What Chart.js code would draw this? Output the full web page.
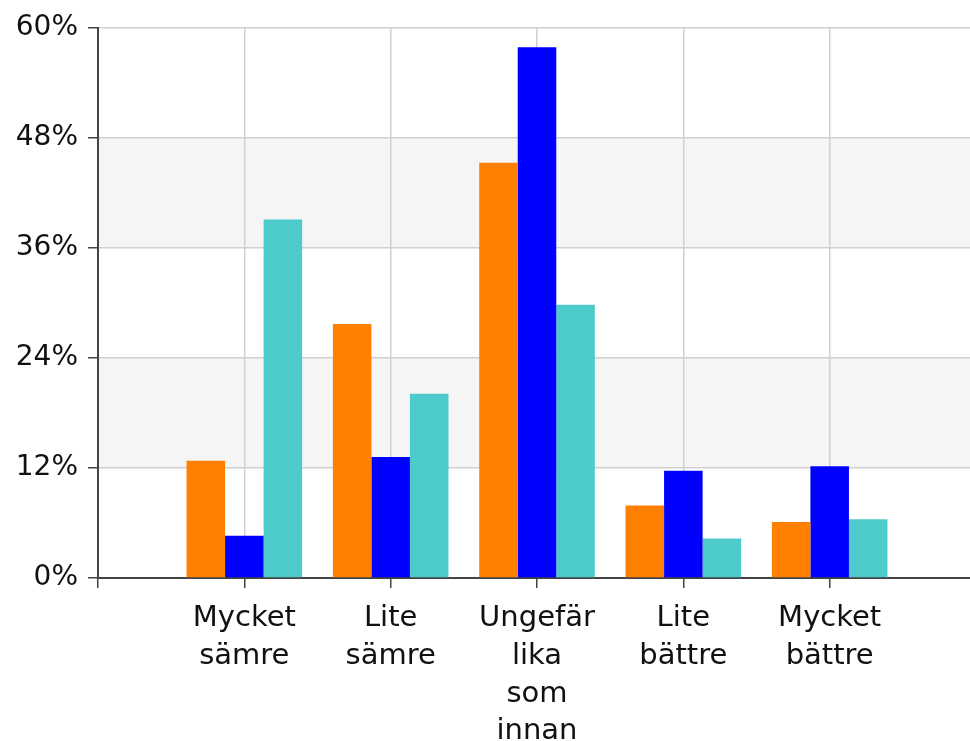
<!DOCTYPE html>
<html>
<head>
<meta charset="utf-8">
<script src="https://cdn.jsdelivr.net/npm/chart.js@4/dist/chart.umd.min.js"></script>
<style>
  html, body { margin: 0; padding: 0; background: #fff; overflow: hidden; }
  #chart { display: block; width: 987px; height: 741px; }
</style>
</head>
<body>
<canvas id="chart" width="987" height="741"></canvas>
<script>
const categories = [
  ["Mycket", "sämre"],
  ["Lite", "sämre"],
  ["Ungefär", "lika", "som", "innan"],
  ["Lite", "bättre"],
  ["Mycket", "bättre"]
];
const orangeValues = [12.8, 27.7, 45.3, 7.9, 6.1];
const blueValues = [4.6, 13.2, 57.9, 11.7, 12.2];
const tealValues = [39.1, 20.1, 29.8, 4.3, 6.4];
const yTicks = [0, 12, 24, 36, 48, 60];
const bands = [[12, 24], [36, 48]];

const C = {
  orange: "#FF8000",
  blue: "#0000FF",
  teal: "#4DCBCB",
  band: "#F5F5F5",
  grid: "#D0D0D0",
  axis: "#444444",
  text: "#111111"
};

// empty slot on each side, like the original axis
const labels = ["", ...categories, ""];
const pad = arr => [null, ...arr, null];

const bandPlugin = {
  id: "bands",
  beforeDraw(chart) {
    const { ctx, chartArea, scales } = chart;
    ctx.save();
    ctx.fillStyle = C.band;
    bands.forEach(([lo, hi]) => {
      const y1 = scales.y.getPixelForValue(hi);
      const y2 = scales.y.getPixelForValue(lo);
      ctx.fillRect(chartArea.left, y1, chartArea.right - chartArea.left, y2 - y1);
    });
    ctx.restore();
  }
};

const family = "'DejaVu Sans', sans-serif";

new Chart(document.getElementById("chart"), {
  type: "bar",
  data: {
    labels,
    datasets: [
      { label: "Grupp 1", data: pad(orangeValues), backgroundColor: C.orange },
      { label: "Grupp 2", data: pad(blueValues), backgroundColor: C.blue },
      { label: "Grupp 3", data: pad(tealValues), backgroundColor: C.teal }
    ]
  },
  options: {
    responsive: false,
    animation: false,
    categoryPercentage: 0.79,
    barPercentage: 1.0,
    layout: { padding: { top: 28, right: 0, bottom: 0, left: 0 } },
    plugins: { legend: { display: false }, tooltip: { enabled: false } },
    scales: {
      x: {
        offset: false,
        grid: { color: C.grid, lineWidth: 1.5, tickColor: C.axis, tickWidth: 1.5, tickLength: 10, offset: false },
        border: { color: C.axis, width: 2 },
        ticks: { color: C.text, font: { family, size: 29, lineHeight: 1.31 }, padding: 11, maxRotation: 0, autoSkip: false },
        afterFit(scale) { scale.height = 163; }
      },
      y: {
        min: 0,
        max: 60,
        afterBuildTicks(scale) { scale.ticks = yTicks.map(v => ({ value: v })); },
        grid: { color: C.grid, lineWidth: 1.5, tickColor: C.axis, tickWidth: 1.5, tickLength: 10 },
        border: { color: C.axis, width: 2 },
        ticks: { color: C.text, font: { family, size: 28 }, padding: 10, callback: v => v + "%" },
        afterFit(scale) { scale.width = 98; }
      }
    }
  },
  plugins: [bandPlugin]
});
</script>
</body>
</html>
